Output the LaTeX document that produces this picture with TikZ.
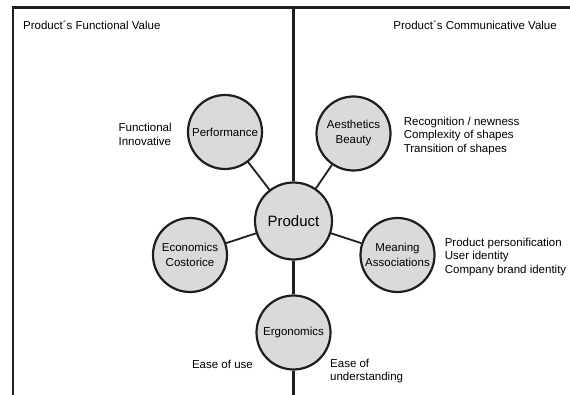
\documentclass[tikz,border=0pt]{standalone}
\usepackage{fontspec}
\setmainfont{Liberation Sans}
\usepackage{xcolor}
\usepackage{tikz}
\usetikzlibrary{positioning}
\definecolor{circfill}{RGB}{218,218,220}
\definecolor{linecol}{RGB}{30,30,30}

\begin{document}
\begin{tikzpicture}[x=1pt, y=-1pt,
    circ/.style={circle, draw=linecol, line width=2.2pt, fill=circfill, minimum size=74pt,
        inner sep=0pt, align=center, font=\fontsize{11.5}{15}\selectfont},
    lbl/.style={align=left, inner sep=0pt, font=\fontsize{11.5}{13.8}\selectfont}]
    \useasboundingbox (0,0) rectangle (570,395);

    % Frame
    \coordinate (tl) at (13,7.5);
    \coordinate (tr) at (570,7.5);
    \coordinate (bl) at (13,395);
    \coordinate (dtop) at (293.5,7.5);
    \coordinate (dbot) at (293.5,395);
    \draw [linecol, line width=2.2pt] (bl) -- (tl) -- (tr);

    \node [lbl, anchor=west] (fvalue) at (23,25) {Product´s Functional Value};
    \node [lbl, anchor=east] (cvalue) at (557,25) {Product´s Communicative Value};

    % Centre
    \node [circ, minimum size=77pt, font=\fontsize{15}{18}\selectfont] (prod) at (293.5,221) {Product};
    \node [circ] (ergo) at (293.5,332.5) {Ergonomics};
    \draw [linecol, line width=2.2pt] (dtop) -- (prod) -- (ergo) -- (dbot);

    % Satellites
    \foreach \name/\x/\y/\txt in {
        perf/225/132/Performance, aest/353.5/133.5/Aesthetics\\Beauty,
        econ/190/255/Economics\\Costorice, mean/397.5/255/Meaning\\Associations} {
        \node [circ] (\name) at (\x,\y) {\txt};
        \draw [linecol, line width=1.8pt] (prod) -- (\name);
    }

    % Labels
    \node [lbl, left=15pt of perf, yshift=-2pt] (perftxt) {Functional\\Innovative};
    \node [lbl, right=12pt of aest, yshift=-2.5pt] (aesttxt) {Recognition / newness\\Complexity of shapes\\Transition of shapes};
    \node [lbl, right=9pt of mean, yshift=-2pt] (meantxt) {Product personification\\User identity\\Company brand identity};
    \node [lbl, anchor=east] (ergol) at (253,364) {Ease of use};
    \node [lbl, anchor=west] (ergor) at (330,371) {Ease of\\understanding};
\end{tikzpicture}
\end{document}
